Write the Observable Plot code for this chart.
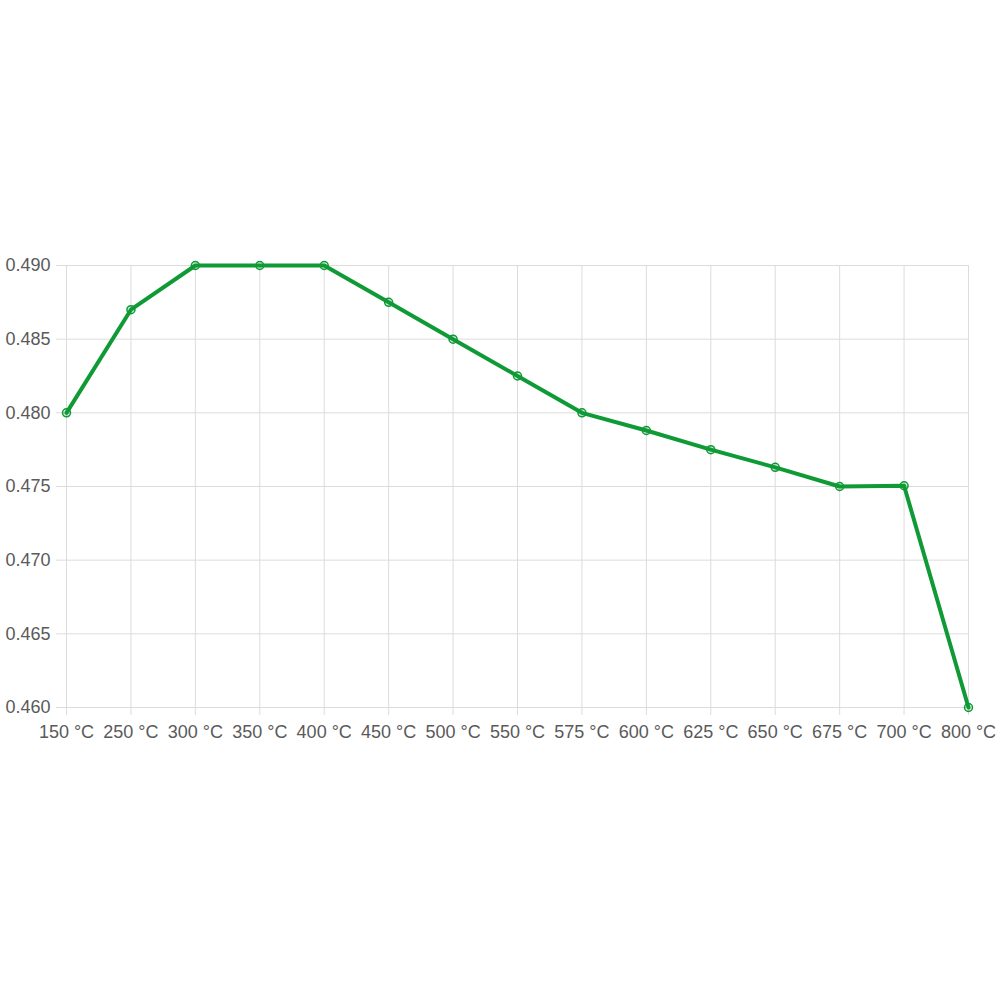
<!DOCTYPE html>
<html><head><meta charset="utf-8">
<script src="https://cdn.jsdelivr.net/npm/d3@7"></script>
<script src="https://cdn.jsdelivr.net/npm/@observablehq/plot@0.6"></script>
<style>body{margin:0;background:#fff;} svg{display:block;overflow:visible;}</style>
</head><body><div id="chart"></div>
<script>
const categories = ["150 °C","250 °C","300 °C","350 °C","400 °C","450 °C","500 °C","550 °C","575 °C","600 °C","625 °C","650 °C","675 °C","700 °C","800 °C"];
const values = [0.480,0.487,0.490,0.490,0.490,0.4875,0.485,0.4825,0.480,0.4788,0.4775,0.4763,0.4750,0.47505,0.460];
const yTicks = [0.460,0.465,0.470,0.475,0.480,0.485,0.490];
const data = categories.map((c,i)=>({cat:c, v:values[i]}));
const green = "#0f9a36";
const grid = "#dcdcdc";
const chart = Plot.plot({
  width: 1000, height: 1000,
  marginTop: 265, marginBottom: 293, marginLeft: 66, marginRight: 32,
  style: {fontFamily: "'Liberation Sans', Arial, sans-serif", fontSize: "18px", color: "#5a5a5a", background: "#fff", overflow: "visible"},
  x: {type: "point", domain: categories, padding: 0, round: false, label: null},
  y: {domain: [0.460, 0.490], label: null},
  marks: [
    Plot.ruleX(categories, {x: d=>d, y1: 0.460, y2: 0.490, stroke: grid, strokeWidth: 1}),
    Plot.ruleY(yTicks, {y: d=>d, stroke: grid, strokeWidth: 1}),
    Plot.axisX({ticks: categories, tickSize: 8, tickPadding: 10, stroke: grid, strokeOpacity: 1, fill: "#5a5a5a", fontSize: 18}),
    Plot.axisY({ticks: yTicks, tickSize: 10, tickPadding: 6, tickFormat: d=>d.toFixed(3), stroke: grid, strokeOpacity: 1, fill: "#5a5a5a", fontSize: 18}),
    Plot.line(data, {x: "cat", y: "v", stroke: green, strokeWidth: 4, curve: "linear"}),
    Plot.dot(data, {x: "cat", y: "v", r: 4, stroke: green, strokeWidth: 1.5, fill: green, fillOpacity: 0.2})
  ]
});
document.getElementById("chart").appendChild(chart);
</script></body></html>
